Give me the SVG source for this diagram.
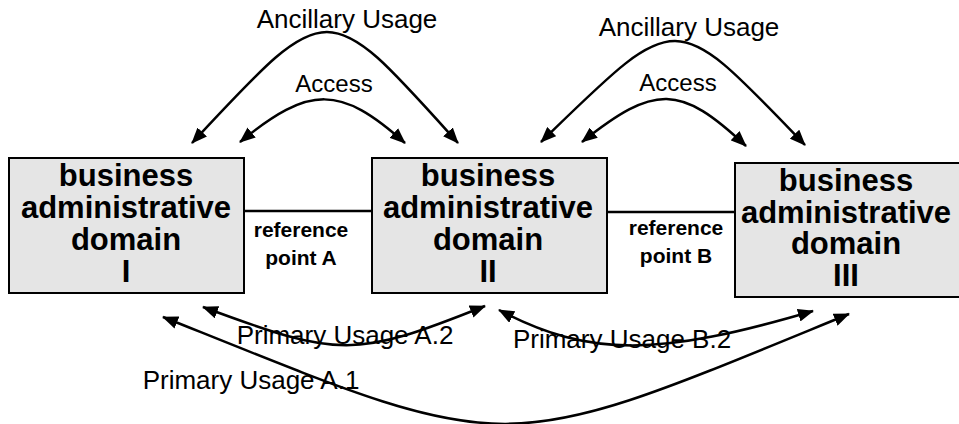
<svg xmlns="http://www.w3.org/2000/svg" width="959" height="424" viewBox="0 0 959 424">
  <style>
    .box { fill: #e5e5e5; stroke: #000; stroke-width: 2; }
    .bt { font-family: "Liberation Sans", Arial, sans-serif; font-weight: bold; font-size: 31px; text-anchor: middle; fill: #000; }
    .rt { font-family: "Liberation Sans", Arial, sans-serif; font-weight: bold; font-size: 21px; text-anchor: middle; fill: #000; }
    .lt { font-family: "Liberation Sans", Arial, sans-serif; font-size: 26px; text-anchor: middle; fill: #000; }
    .arc { fill: none; stroke: #000; stroke-width: 2.5; marker-start: url(#ah); marker-end: url(#ah); }
    .ref { fill: none; stroke: #000; stroke-width: 2.5; }
  </style>
  <defs>
    <marker id="ah" viewBox="0 0 16 13" markerUnits="userSpaceOnUse" markerWidth="16" markerHeight="13" refX="15" refY="6.5" orient="auto-start-reverse">
      <path d="M0,0 L16,6.5 L0,13 z" fill="#000"/>
    </marker>
  </defs>

  <g id="connectors">
    <line class="ref" x1="244" y1="211" x2="372" y2="211"/>
    <line class="ref" x1="607" y1="212" x2="735" y2="212"/>
    <path class="arc" d="M192,143 C330,-5 325,-5 458,143"/>
    <path class="arc" d="M240,142 C310,85 340,85 405,143"/>
    <path class="arc" d="M541,142 C680,7 672,7 805,145"/>
    <path class="arc" d="M582,142 C655,84 680,84 746,146"/>
    <path class="arc" d="M203,307 C340,358 355,358 485,306"/>
    <path class="arc" d="M499,310 C590,358 660,356 813,311"/>
    <path class="arc" d="M163,317 C520,460 492,460 849,314"/>
  </g>

  <g id="domain-I">
    <rect class="box" x="9" y="158" width="235" height="135"/>
    <text class="bt" x="126" y="186">business</text>
    <text class="bt" x="126" y="218">administrative</text>
    <text class="bt" x="126" y="250">domain</text>
    <text class="bt" x="126" y="282">I</text>
  </g>
  <g id="domain-II">
    <rect class="box" x="372" y="158" width="235" height="135"/>
    <text class="bt" x="488" y="186">business</text>
    <text class="bt" x="488" y="218">administrative</text>
    <text class="bt" x="488" y="250">domain</text>
    <text class="bt" x="488" y="282">II</text>
  </g>
  <g id="domain-III">
    <rect class="box" x="735" y="163" width="235" height="134"/>
    <text class="bt" x="846" y="191">business</text>
    <text class="bt" x="846" y="223">administrative</text>
    <text class="bt" x="846" y="254">domain</text>
    <text class="bt" x="846" y="286">III</text>
  </g>

  <g id="labels">
    <text class="rt" x="301" y="237">reference</text>
    <text class="rt" x="301" y="265">point A</text>
    <text class="rt" x="676" y="235">reference</text>
    <text class="rt" x="676" y="263">point B</text>
    <text class="lt" x="347" y="28">Ancillary Usage</text>
    <text class="lt" x="334" y="92" style="font-size:24px">Access</text>
    <text class="lt" x="689" y="36">Ancillary Usage</text>
    <text class="lt" x="678" y="91" style="font-size:24px">Access</text>
    <text class="lt" x="345" y="344">Primary Usage A.2</text>
    <text class="lt" x="251" y="389">Primary Usage A.1</text>
    <text class="lt" x="622" y="348">Primary Usage B.2</text>
  </g>
</svg>
